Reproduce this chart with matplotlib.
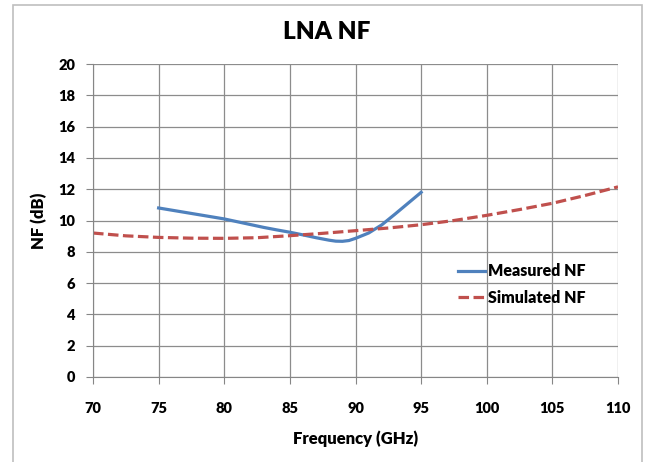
import numpy as np
import matplotlib.pyplot as plt
from matplotlib.patches import Rectangle

plt.rcParams['font.family'] = ['Lato', 'DejaVu Sans']
plt.rcParams['font.weight'] = 'heavy'

# measured NF
meas_freq = [75, 76, 77, 78, 79, 80, 81, 82, 83, 84, 85,
             86, 87, 88, 88.5, 89, 89.5, 90, 91, 92, 93, 94, 95]
meas_nf = [10.8, 10.66, 10.52, 10.38, 10.24, 10.1, 9.92, 9.74, 9.56, 9.4, 9.25,
           9.08, 8.9, 8.74, 8.68, 8.67, 8.72, 8.86, 9.2, 9.72, 10.4, 11.1, 11.8]

# simulated NF
sim_freq = [70, 72.5, 75, 77.5, 80, 82.5, 85, 87.5, 90, 92.5,
            95, 97.5, 100, 102.5, 105, 107.5, 110]
sim_nf = [9.2, 9.02, 8.92, 8.87, 8.86, 8.9, 9.03, 9.18, 9.35, 9.52,
          9.73, 10.0, 10.33, 10.7, 11.1, 11.6, 12.15]

xticks = [70, 75, 80, 85, 90, 95, 100, 105, 110]
yticks = [0, 2, 4, 6, 8, 10, 12, 14, 16, 18, 20]

fig = plt.figure(figsize=(6.46, 4.62), dpi=100)
ax = fig.add_axes([93/646, 85/462, 525/646, 313/462])

# chart area border
fig.patches.append(Rectangle((13/646, -0.05), 629/646, 1.04, transform=fig.transFigure,
                             fill=False, edgecolor='#bfbfbf', linewidth=1.2))

ax.plot(meas_freq, meas_nf, color='#4f81bd', linewidth=2.3, label='Measured NF')
ax.plot(sim_freq, sim_nf, color='#c0504d', linewidth=2.3, linestyle=(0, (3.3, 1.4)),
        dash_capstyle='butt', label='Simulated NF')

ax.set_xlim(70, 110)
ax.set_ylim(0, 20)
ax.set_xticks(xticks)
ax.set_yticks(yticks)
ax.grid(True, color='#8c8c8c', linewidth=0.9)
ax.set_axisbelow(True)
for s in ['top', 'right']:
    ax.spines[s].set_visible(False)
for s in ['left', 'bottom']:
    ax.spines[s].set_color('#868686')
ax.tick_params(axis='both', colors='#868686', length=5, labelsize=10.5, labelcolor='black')
ax.tick_params(axis='y', pad=8)
ax.tick_params(axis='x', pad=13)

ax.set_xlabel('Frequency (GHz)', fontsize=12, fontweight='heavy', labelpad=11)
ax.set_ylabel('NF (dB)', fontsize=12, fontweight='heavy', labelpad=8)
fig.text(326.5/646, 1 - 32/462, 'LNA NF', fontsize=17.5, fontweight='heavy',
         ha='center', va='center')

ax.legend(loc='center left', bbox_to_anchor=(0.667, 0.295), frameon=False,
          fontsize=11.5, handlelength=1.7, handletextpad=0.2, labelspacing=0.65)

fig.savefig('out.png', dpi=100)
